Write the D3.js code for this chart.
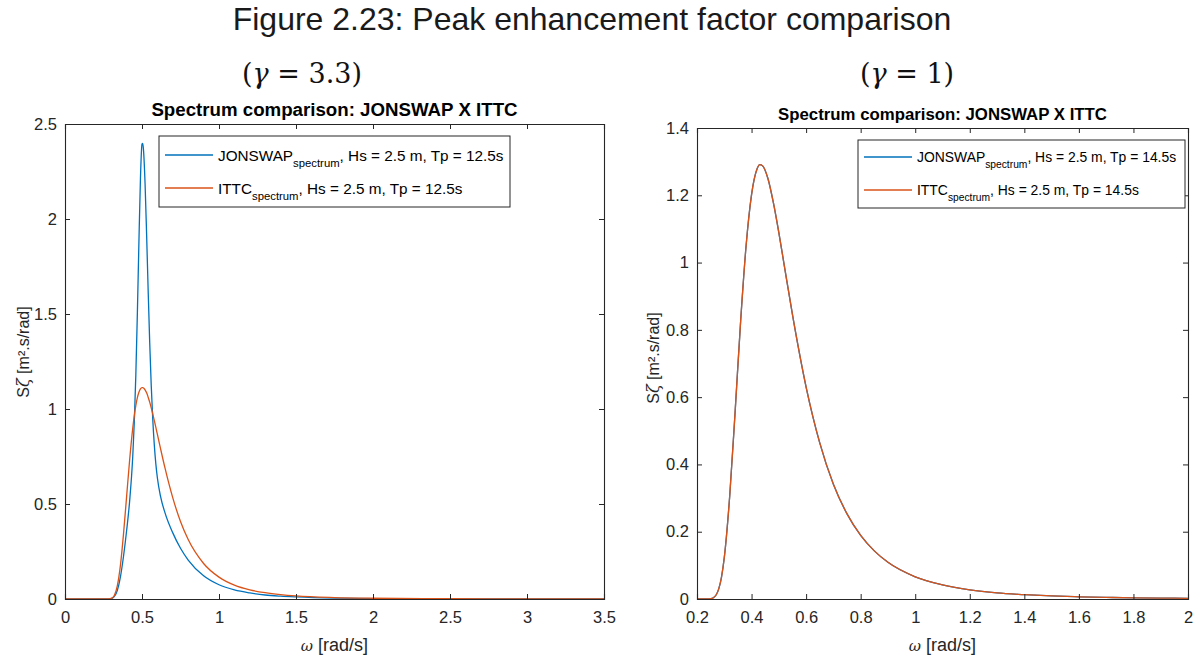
<!DOCTYPE html>
<html>
<head>
<meta charset="utf-8">
<script src="https://cdn.jsdelivr.net/npm/d3@7"></script>
<style>
  html, body { margin: 0; padding: 0; background: #fff; }
  svg { display: block; }
  .tick-label { font-family: "Liberation Sans Narrow", "Arial Narrow", "Liberation Sans", Arial, sans-serif; fill: #262626; }
</style>
</head>
<body>
<svg id="chart" width="1203" height="661"></svg>
<script>
// ---------------- DATA ----------------
// Left panel: gamma = 3.3, Hs = 2.5 m, Tp = 12.5 s
const omegaLeft = [0, 0.1, 0.2, 0.25, 0.28, 0.30, 0.32, 0.34, 0.36, 0.38, 0.40, 0.42, 0.44, 0.45, 0.46, 0.47, 0.48, 0.49, 0.50, 0.505, 0.51, 0.52, 0.53, 0.54, 0.55, 0.56, 0.57, 0.58, 0.59, 0.60, 0.62, 0.65, 0.70, 0.75, 0.80, 0.90, 1.0, 1.1, 1.2, 1.3, 1.4, 1.5, 1.75, 2.0, 2.5, 3.0, 3.5];
const jonswapLeft = [0, 0, 0, 0, 0.0001, 0.0018, 0.012, 0.046, 0.117, 0.225, 0.359, 0.518, 0.751, 0.932, 1.181, 1.506, 1.879, 2.215, 2.394, 2.398, 2.360, 2.184, 1.917, 1.624, 1.351, 1.123, 0.944, 0.810, 0.710, 0.637, 0.541, 0.452, 0.348, 0.267, 0.205, 0.122, 0.075, 0.048, 0.032, 0.021, 0.015, 0.011, 0.0049, 0.0025, 0.0008, 0.0003, 0.0002];
const ittcLeft = [0, 0, 0, 0, 0.0002, 0.0027, 0.018, 0.070, 0.178, 0.343, 0.539, 0.734, 0.899, 0.965, 1.019, 1.060, 1.088, 1.106, 1.113, 1.113, 1.111, 1.101, 1.085, 1.062, 1.036, 1.006, 0.973, 0.939, 0.903, 0.866, 0.793, 0.687, 0.532, 0.408, 0.313, 0.187, 0.115, 0.073, 0.048, 0.033, 0.023, 0.016, 0.0075, 0.0039, 0.0013, 0.0005, 0.0002];

// Right panel: gamma = 1, Hs = 2.5 m, Tp = 14.5 s (curves coincide)
const omegaRight = [0.2, 0.22, 0.24, 0.25, 0.26, 0.27, 0.28, 0.29, 0.30, 0.32, 0.34, 0.36, 0.38, 0.40, 0.42, 0.43, 0.44, 0.46, 0.48, 0.50, 0.52, 0.55, 0.60, 0.65, 0.70, 0.75, 0.80, 0.85, 0.90, 1.0, 1.1, 1.2, 1.3, 1.4, 1.5, 1.6, 1.7, 1.8, 1.9, 2.0];
const jonswapRight = [0, 0, 0.0001, 0.0009, 0.0038, 0.012, 0.031, 0.066, 0.123, 0.307, 0.560, 0.826, 1.050, 1.202, 1.278, 1.291, 1.288, 1.250, 1.178, 1.089, 0.991, 0.845, 0.630, 0.464, 0.341, 0.253, 0.189, 0.143, 0.109, 0.066, 0.042, 0.027, 0.018, 0.013, 0.009, 0.0065, 0.0048, 0.0036, 0.0028, 0.0021];
const ittcRight = [0, 0, 0.0001, 0.0009, 0.0038, 0.012, 0.031, 0.066, 0.123, 0.307, 0.560, 0.826, 1.050, 1.202, 1.278, 1.291, 1.288, 1.250, 1.178, 1.089, 0.991, 0.845, 0.630, 0.464, 0.341, 0.253, 0.189, 0.143, 0.109, 0.066, 0.042, 0.027, 0.018, 0.013, 0.009, 0.0065, 0.0048, 0.0036, 0.0028, 0.0021];

const xTicksLeft = [0, 0.5, 1, 1.5, 2, 2.5, 3, 3.5];
const yTicksLeft = [0, 0.5, 1, 1.5, 2, 2.5];
const xTicksRight = [0.2, 0.4, 0.6, 0.8, 1, 1.2, 1.4, 1.6, 1.8, 2];
const yTicksRight = [0, 0.2, 0.4, 0.6, 0.8, 1, 1.2, 1.4];

const seriesNames = ["JONSWAP", "ITTC"];
const legendSub = "spectrum";
const legendTailLeft = ", Hs = 2.5 m, Tp = 12.5s";
const legendTailRight = ", Hs = 2.5 m, Tp = 14.5s";
const colors = ["#0072BD", "#D95319"];

// ---------------- DRAWING ----------------
const svg = d3.select("#chart");
const axisColor = "#262626";

svg.append("text")
  .attr("x", 592).attr("y", 30)
  .attr("text-anchor", "middle")
  .style("font-family", "'Liberation Sans', Arial, sans-serif")
  .style("font-size", "32px")
  .style("fill", "#1a1a1a")
  .text("Figure 2.23: Peak enhancement factor comparison");

function gammaLabel(cx, value) {
  const t = svg.append("text")
    .attr("x", cx).attr("y", 83)
    .attr("text-anchor", "middle")
    .style("font-family", "'DejaVu Serif', 'Liberation Serif', serif")
    .style("font-size", "27px")
    .style("fill", "#111");
  t.append("tspan").text("(");
  t.append("tspan").style("font-style", "italic").text("γ");
  t.append("tspan").text(" = " + value + ")");
}
gammaLabel(302, "3.3");
gammaLabel(907, "1");

function panel(cfg) {
  const { left, right, top, bottom, xDomain, yDomain, xTicks, yTicks, omega, series, tail, legend, fs } = cfg;
  const x = d3.scaleLinear().domain(xDomain).range([left, right]);
  const y = d3.scaleLinear().domain(yDomain).range([bottom, top]);
  const g = svg.append("g");

  // subplot title
  g.append("text")
    .attr("x", (left + right) / 2).attr("y", top - 8)
    .attr("text-anchor", "middle")
    .style("font-family", "'Liberation Sans Narrow', 'Arial Narrow', 'Liberation Sans', sans-serif")
    .style("font-weight", "bold")
    .style("font-size", cfg.titleFs + "px")
    .style("fill", "#000")
    .text("Spectrum comparison: JONSWAP X ITTC");

  // clip
  const id = "clip" + left;
  svg.append("clipPath").attr("id", id)
    .append("rect").attr("x", left).attr("y", top).attr("width", right - left).attr("height", bottom - top);

  // lines
  const line = d3.line().x(d => x(d[0])).y(d => y(d[1])).curve(d3.curveMonotoneX);
  series.forEach((vals, i) => {
    g.append("path")
      .attr("clip-path", `url(#${id})`)
      .attr("d", line(omega.map((w, k) => [w, vals[k]])))
      .attr("fill", "none")
      .attr("stroke", colors[i])
      .attr("stroke-width", 1.3);
  });

  // axes with ticks on all sides (inward)
  const tl = 5;
  const axB = d3.axisBottom(x).tickValues(xTicks).tickSize(-tl).tickPadding(12).tickFormat(d3.format("~g"));
  const axT = d3.axisTop(x).tickValues(xTicks).tickSize(-tl).tickFormat("");
  const axL = d3.axisLeft(y).tickValues(yTicks).tickSize(-tl).tickPadding(8).tickFormat(d3.format("~g"));
  const axR = d3.axisRight(y).tickValues(yTicks).tickSize(-tl).tickFormat("");
  const gb = g.append("g").attr("transform", `translate(0,${bottom})`).call(axB);
  const gt = g.append("g").attr("transform", `translate(0,${top})`).call(axT);
  const gl = g.append("g").attr("transform", `translate(${left},0)`).call(axL);
  const gr = g.append("g").attr("transform", `translate(${right},0)`).call(axR);
  [gb, gt, gl, gr].forEach(a => {
    a.select(".domain").attr("stroke", axisColor).attr("stroke-width", 1.1);
    a.selectAll(".tick line").attr("stroke", axisColor).attr("stroke-width", 1);
    a.selectAll("text").attr("class", "tick-label").style("font-size", fs + "px").attr("fill", axisColor);
  });

  // axis labels
  const xl = g.append("text")
    .attr("x", (left + right) / 2).attr("y", bottom + 52)
    .attr("text-anchor", "middle")
    .style("font-family", "'Liberation Sans', Arial, sans-serif")
    .style("font-size", "18px").style("fill", axisColor);
  xl.append("tspan").style("font-style", "italic").style("font-family", "'DejaVu Serif', serif").style("font-size", "15px").text("ω");
  xl.append("tspan").text(" [rad/s]");

  const yl = g.append("text")
    .attr("transform", `translate(${cfg.ylabelX},${cfg.ylabelY}) rotate(-90)`)
    .attr("text-anchor", "middle")
    .style("font-family", "'Liberation Sans', Arial, sans-serif")
    .style("font-size", "16px").style("fill", axisColor);
  yl.append("tspan").text("S");
  yl.append("tspan").style("font-style", "italic").style("font-family", "'DejaVu Serif', serif").text("ζ");
  yl.append("tspan").text(" [m².s/rad]");

  // legend
  const L = legend;
  g.append("rect")
    .attr("x", L.x).attr("y", L.y).attr("width", L.w).attr("height", L.h)
    .attr("fill", "#fff").attr("stroke", "#262626").attr("stroke-width", 1);
  seriesNames.forEach((name, i) => {
    const cy = L.y + L.row0 + i * L.dy;
    g.append("line")
      .attr("x1", L.x + 6).attr("x2", L.x + 54)
      .attr("y1", cy).attr("y2", cy)
      .attr("stroke", colors[i]).attr("stroke-width", 1.3);
    const t = g.append("text")
      .attr("x", L.x + 59).attr("y", cy + L.fs * 0.36)
      .style("font-family", "'Liberation Sans', Arial, sans-serif")
      .style("font-size", L.fs + "px").style("fill", "#000");
    t.append("tspan").text(name);
    t.append("tspan").attr("dy", L.fs * 0.42).style("font-size", (L.fs * 0.74) + "px").text(legendSub);
    t.append("tspan").attr("dy", -L.fs * 0.42).text(tail);
  });
}

panel({
  left: 65, right: 604, top: 124, bottom: 599,
  xDomain: [0, 3.5], yDomain: [0, 2.5],
  xTicks: xTicksLeft, yTicks: yTicksLeft,
  omega: omegaLeft, series: [jonswapLeft, ittcLeft],
  tail: legendTailLeft, fs: 16.5, titleFs: 18.7, ylabelX: 29, ylabelY: 352,
  legend: { x: 159, y: 136, w: 351, h: 71, row0: 19, dy: 33, fs: 15.3 }
});

panel({
  left: 697, right: 1188, top: 128, bottom: 599,
  xDomain: [0.2, 2], yDomain: [0, 1.4],
  xTicks: xTicksRight, yTicks: yTicksRight,
  omega: omegaRight, series: [jonswapRight, ittcRight],
  tail: legendTailRight, fs: 16.5, titleFs: 16.8, ylabelX: 659, ylabelY: 358,
  legend: { x: 858, y: 140, w: 327, h: 68, row0: 17, dy: 33, fs: 13.9 }
});
</script>
</body>
</html>
